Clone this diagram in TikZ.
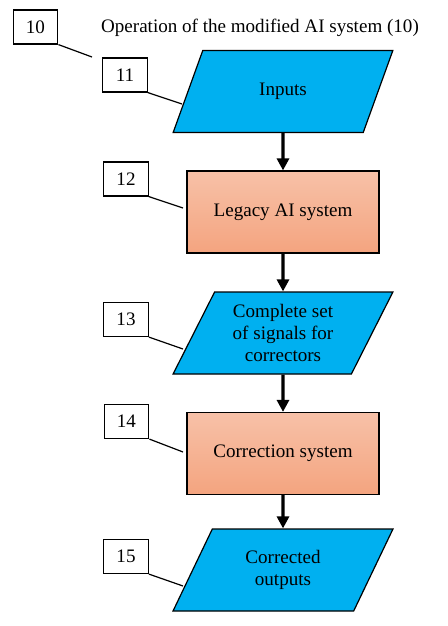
\documentclass[tikz,border=0pt]{standalone}
\usepackage{fontspec}
\setmainfont{Liberation Serif}
\usepackage{tikz}
\usetikzlibrary{arrows.meta,shapes.geometric}
\definecolor{CianDatos}{RGB}{0,176,240}
\definecolor{SalmonClaro}{RGB}{247,193,168}
\definecolor{SalmonOscuro}{RGB}{244,164,127}

\tikzset{
  datos/.style={trapezium,trapezium left angle=62,trapezium right angle=118,
    trapezium stretches=true,minimum width=165pt,minimum height=61.5pt,
    inner sep=0pt,draw,line width=0.9pt,fill=CianDatos,align=center},
  bloque/.style={rectangle,draw,line width=0.9pt,minimum width=144pt,
    minimum height=61.5pt,top color=SalmonClaro,bottom color=SalmonOscuro,align=center},
  etiqueta/.style={rectangle,draw,line width=0.9pt,fill=white,
    minimum width=33.5pt,minimum height=25.5pt,inner sep=0pt},
  flujo/.style={-{Triangle[length=9pt,width=9pt]},line width=2.3pt},
  guia/.style={line width=0.9pt}
}

\begin{document}
\begin{tikzpicture}[x=0.75pt,y=-0.75pt,font=\fontsize{14.3}{16.5}\selectfont]
  \useasboundingbox (0,0) rectangle (448,626);
  % bloques del diagrama
  \node[datos]  (inputs)  at (283,91.5) {Inputs};
  \node[bloque] (legacy)  at (283,212)  {Legacy AI system};
  \node[datos]  (signals) at (283,333)  {Complete set\\of signals for\\correctors};
  \node[bloque] (corr)    at (283,453.5) {Correction system};
  \node[datos]  (outputs) at (283,570)  {Corrected\\outputs};
  \node (title) at (260,28) {Operation of the modified AI system (10)};
  % flechas
  \draw[flujo] (inputs.south) -- (legacy.north);
  \draw[flujo] (legacy.south) -- (signals.north);
  \draw[flujo] (signals.south) -- (corr.north);
  \draw[flujo] (corr.south) -- (outputs.north);
  % etiquetas numeradas
  \node[etiqueta] (n10) at (35.5,27)  {10};
  \node[etiqueta] (n11) at (125,75)   {11};
  \node[etiqueta] (n12) at (126,179)  {12};
  \node[etiqueta] (n13) at (126,319.5) {13};
  \node[etiqueta] (n14) at (126.5,421.5) {14};
  \node[etiqueta] (n15) at (126,556.5) {15};
  \coordinate (p10) at (92,57);
  \coordinate (p11) at (182,104);
  \coordinate (p12) at (183,208);
  \coordinate (p13) at (183,349);
  \coordinate (p14) at (183,452);
  \coordinate (p15) at (183,586);
  \draw[guia] (n10.south east) -- (p10);
  \draw[guia] (n11.south east) -- (p11);
  \draw[guia] (n12.south east) -- (p12);
  \draw[guia] (n13.south east) -- (p13);
  \draw[guia] (n14.south east) -- (p14);
  \draw[guia] (n15.south east) -- (p15);
\end{tikzpicture}
\end{document}
